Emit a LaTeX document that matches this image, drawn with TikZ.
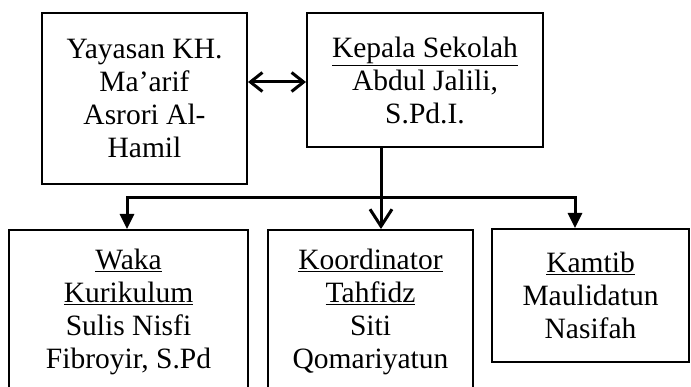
\documentclass[tikz,border=0pt]{standalone}
\usepackage{fontspec}
\setmainfont{Liberation Serif}
\usepackage{tikz}
\usetikzlibrary{arrows.meta, positioning, calc}

\begin{document}
\begin{tikzpicture}[
  x=1pt, y=1pt,
  box/.style={draw, line width=2pt, align=center, inner sep=0pt, font=\fontsize{29.5}{33}\selectfont},
  link/.style={line width=3pt},
  barb/.style={arrows={Straight Barb[length=12pt, width=19pt]-Straight Barb[length=12pt, width=19pt]}},
  opentip/.style={-{Straight Barb[length=17pt, width=22pt]}},
  filltip/.style={-{Triangle[length=15pt, width=14pt]}},
]
\useasboundingbox (0,0) rectangle (691,386);
\clip (0,0) rectangle (691,386);

% Top row
\node[box, minimum width=205, minimum height=171] (yayasan) at (144.5,287.5)
  {Yayasan KH.\\Ma’arif\\Asrori Al-\\Hamil};
\node[box, minimum width=236, minimum height=134] (kepala) at (425,306)
  {\underline{Kepala Sekolah}\\Abdul Jalili,\\S.Pd.I.};

% Bottom row
\node[box, minimum width=239, minimum height=164] (waka) at (128.5,74)
  {\underline{Waka}\\\underline{Kurikulum}\\Sulis Nisfi\\Fibroyir, S.Pd};
\node[box, minimum width=205, minimum height=164] (koord) at (370.5,74)
  {\underline{Koordinator}\\\underline{Tahfidz}\\Siti\\Qomariyatun};
\node[box, minimum width=197, minimum height=133] (kamtib) at (590.5,90.5)
  {\underline{Kamtib}\\Maulidatun\\Nasifah};

% Connectors
\coordinate (pair) at (0,304);
\coordinate (busL) at (127,188);
\coordinate (busM) at (381,188);
\coordinate (busR) at (575,188);
\draw[link, barb] (yayasan.east |- pair) -- (kepala.west |- pair);
\draw[link, opentip] (busM |- kepala.south) -- (busM |- koord.north);
\draw[link] (busL) -- (busR);
\draw[link, filltip] ([yshift=1.5pt]busL) -- (busL |- waka.north);
\draw[link, filltip] ([yshift=1.5pt]busR) -- (busR |- kamtib.north);
\end{tikzpicture}
\end{document}
